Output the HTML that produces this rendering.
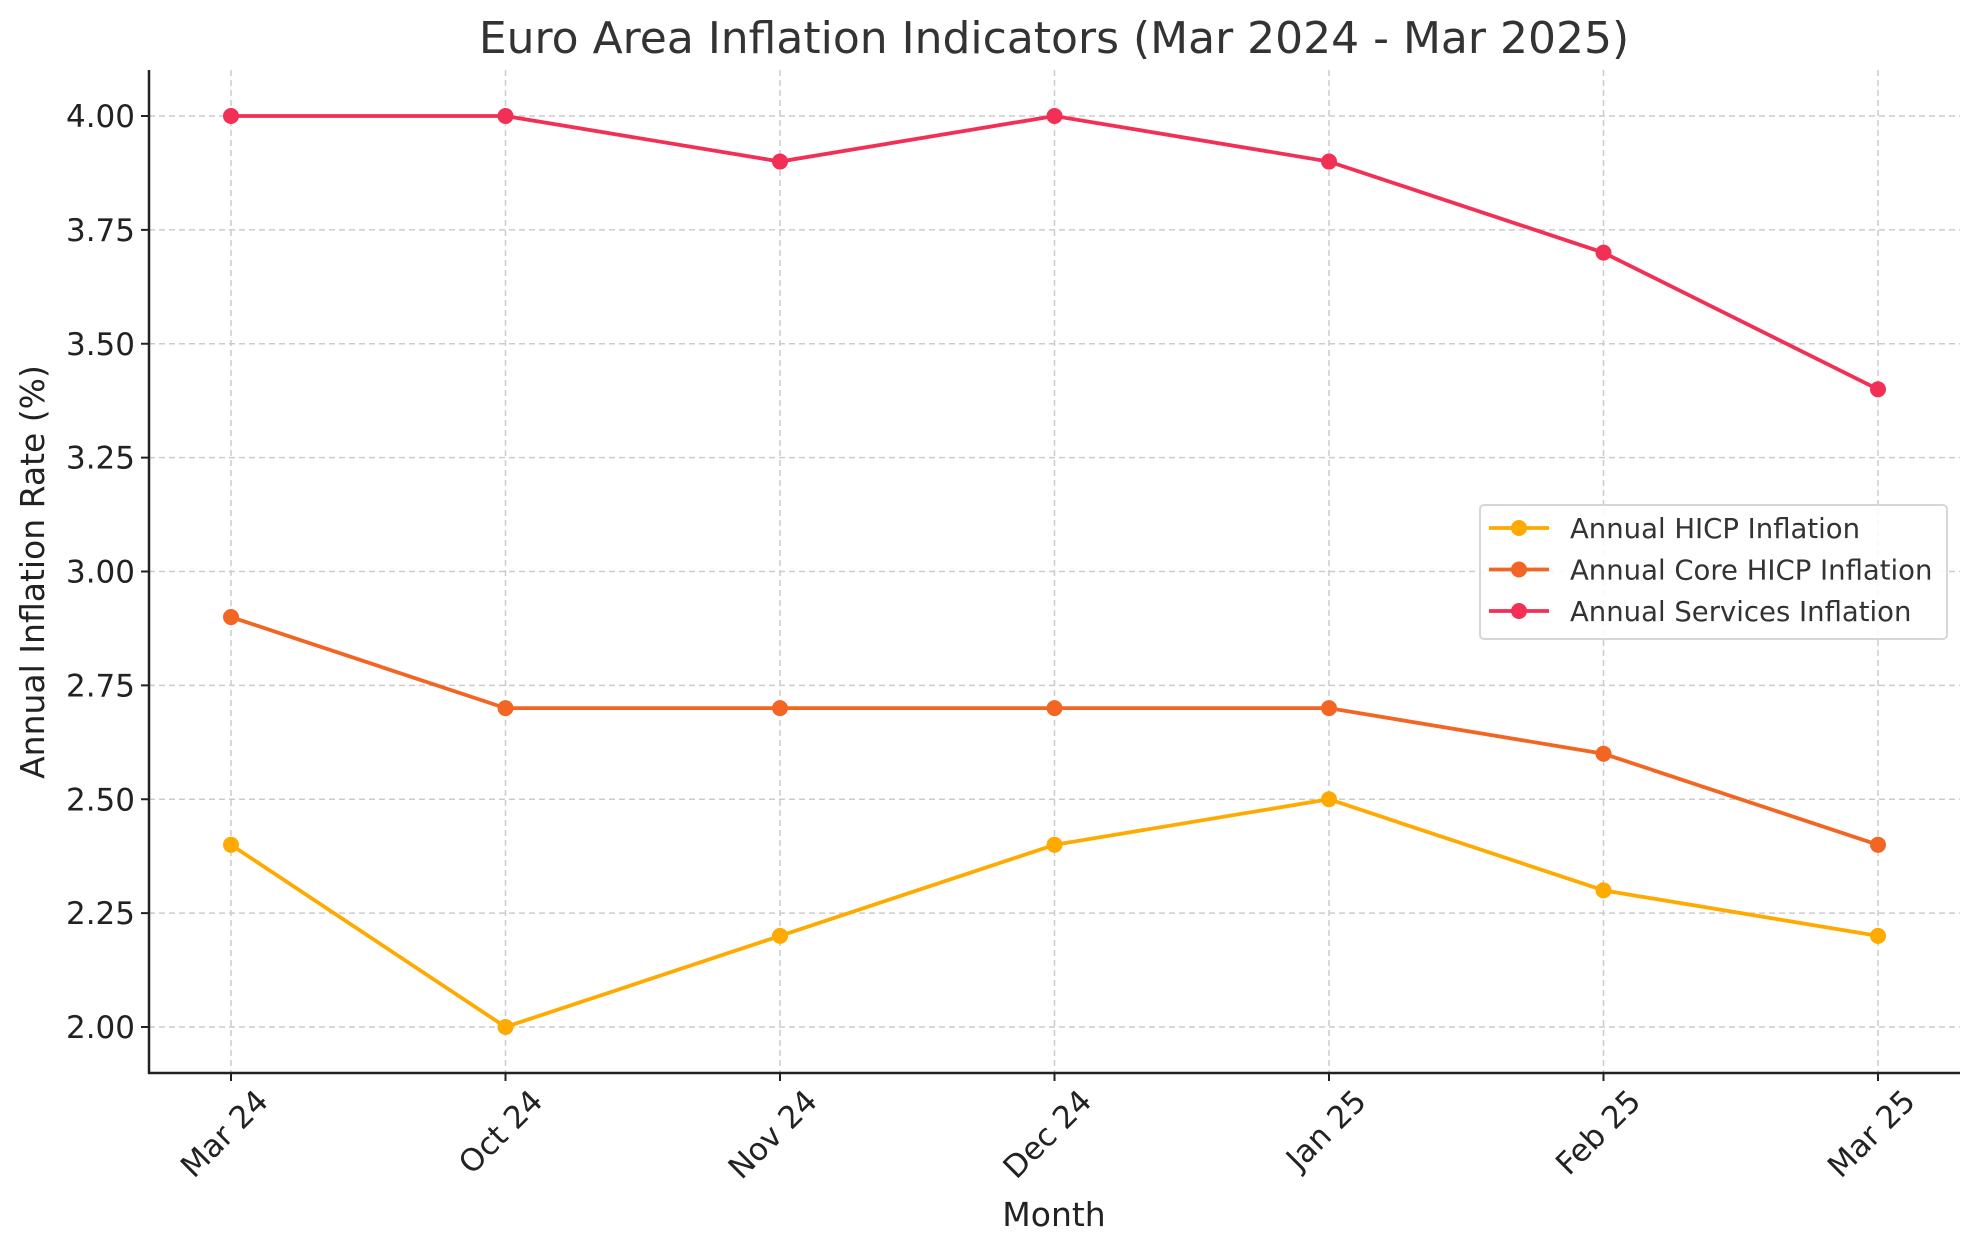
<!DOCTYPE html>
<html><head><meta charset="utf-8"><style>
body{margin:0;background:#fff}
svg{display:block;font-family:"DejaVu Sans","Liberation Sans",sans-serif}
</style></head><body>
<svg id="chart" width="1979" height="1254" viewBox="0 0 1979 1254" xmlns="http://www.w3.org/2000/svg">
<text x="1054" y="53" font-size="44" text-anchor="middle" fill="#333">Euro Area Inflation Indicators (Mar 2024 - Mar 2025)</text>
<g id="grid"></g><g id="axes"></g><g id="series"></g>
<text x="1054" y="1226" font-size="33" text-anchor="middle" fill="#222">Month</text>
<text transform="translate(44,572) rotate(-90)" font-size="33" text-anchor="middle" fill="#222">Annual Inflation Rate (%)</text>
<g id="legend"></g>
</svg>
<script>
const categories=["Mar 24","Oct 24","Nov 24","Dec 24","Jan 25","Feb 25","Mar 25"];
const hicp=[2.4,2.0,2.2,2.4,2.5,2.3,2.2];
const core=[2.9,2.7,2.7,2.7,2.7,2.6,2.4];
const services=[4.0,4.0,3.9,4.0,3.9,3.7,3.4];
const yTicks=[2.00,2.25,2.50,2.75,3.00,3.25,3.50,3.75,4.00];
const seriesNames=["Annual HICP Inflation","Annual Core HICP Inflation","Annual Services Inflation"];
const seriesColors=["#FFAA00","#F26522","#F22F55"];
const NS="http://www.w3.org/2000/svg";
const L=149,R=1960,T=70,B=1073;
const x=i=>231+i*(1878-231)/6;
const y=v=>1027-(v-2)*(1027-116)/2;
function mk(tag,attrs,parent){const e=document.createElementNS(NS,tag);for(const k in attrs)e.setAttribute(k,attrs[k]);parent.appendChild(e);return e;}
const grid=document.getElementById('grid'),axes=document.getElementById('axes'),ser=document.getElementById('series'),leg=document.getElementById('legend');
yTicks.forEach(v=>{
 const g=mk('line',{x1:L,x2:R,y1:y(v),y2:y(v),stroke:'#ccc','stroke-width':1.5,'stroke-dasharray':'6,4'},grid);
 
 
 mk('line',{x1:L-8,x2:L,y1:y(v),y2:y(v),stroke:'#222','stroke-width':2},axes);
 const t=mk('text',{x:L-14,y:y(v)+11,'font-size':31,'text-anchor':'end',fill:'#222'},axes);
 t.textContent=v.toFixed(2);
 
 
});
categories.forEach((c,i)=>{
 const g=mk('line',{x1:x(i),x2:x(i),y1:T,y2:B,stroke:'#ccc','stroke-width':1.5,'stroke-dasharray':'6,4'},grid);
 
 
 mk('line',{x1:x(i),x2:x(i),y1:B,y2:B+8,stroke:'#222','stroke-width':2},axes);
 const ax=x(i)+39, ay=B+30;
 const t=mk('text',{x:ax,y:ay,'font-size':31,'text-anchor':'end',fill:'#222',transform:`rotate(-45 ${ax} ${ay})`},axes);
 t.textContent=c;
 
 
});
mk('line',{x1:L,x2:L,y1:T,y2:B+1,stroke:'#222','stroke-width':2.5},axes);
mk('line',{x1:L-1,x2:R,y1:B,y2:B,stroke:'#222','stroke-width':2.5},axes);
[hicp,core,services].forEach((d,s)=>{
 const p=mk('polyline',{points:d.map((v,i)=>x(i)+','+y(v)).join(' '),fill:'none',stroke:seriesColors[s],'stroke-width':3.8},ser);
 
 
 d.forEach((v,i)=>{
  const c=mk('circle',{cx:x(i),cy:y(v),r:8,fill:seriesColors[s]},ser);
  
  
 });
});
const box=mk('rect',{x:1480,y:505,width:467,height:134,rx:4,fill:'#fff','fill-opacity':0.85,stroke:'#d6d6d6','stroke-width':2},leg);


seriesNames.forEach((n,s)=>{
 const yy=528+s*41.5;
 mk('line',{x1:1489,x2:1549,y1:yy,y2:yy,stroke:seriesColors[s],'stroke-width':3.8},leg);
 mk('circle',{cx:1519,cy:yy,r:8,fill:seriesColors[s]},leg);
 const t=mk('text',{x:1570,y:yy+10,'font-size':27.5,fill:'#333'},leg);
 t.textContent=n;
 
 
});
</script>
</body></html>
